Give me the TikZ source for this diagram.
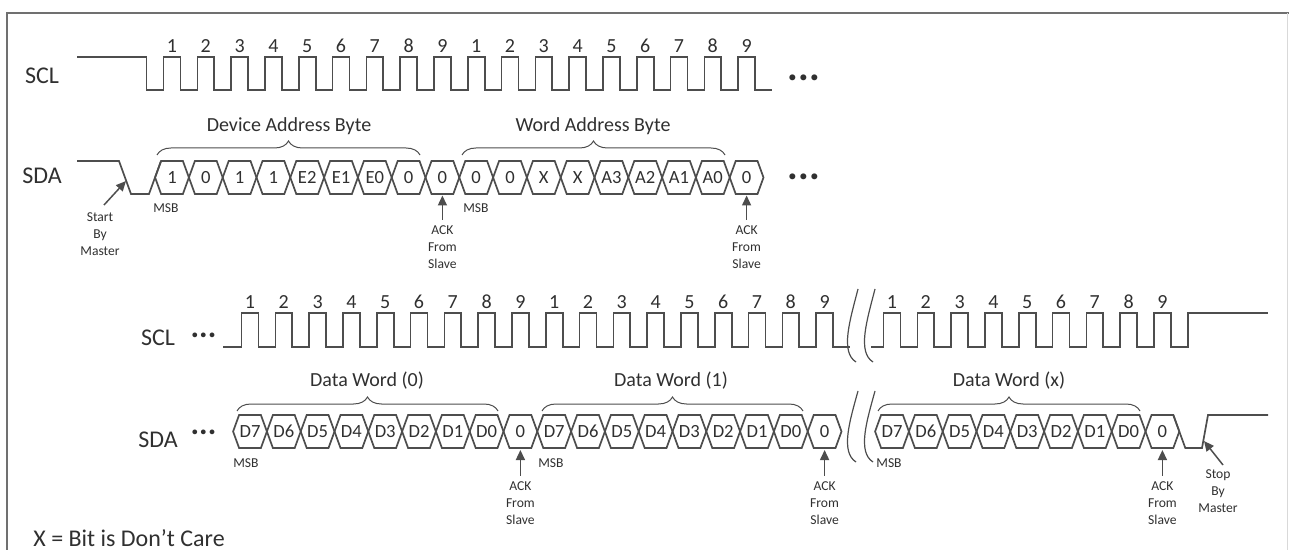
\documentclass[tikz,border=0pt]{standalone}
\usepackage{fontspec}
\setmainfont{Carlito}
\usetikzlibrary{arrows.meta,decorations.pathreplacing}
\definecolor{sig}{HTML}{4D4D4D}
\definecolor{txt}{HTML}{303030}
\definecolor{frm}{HTML}{707070}
\newcommand\hexcell[5]{%
  \draw[sigline] ({#1-16.9},{(#2+#3)/2}) -- ({#1-10.9},#2) -- ({#1+10.9},#2) -- ({#1+16.9},{(#2+#3)/2}) -- ({#1+10.9},#3) -- ({#1-10.9},#3) -- cycle;
  \node[hexlbl] (#5) at ({#1},{(#2+#3)/2}) {#4};
}
\begin{document}
\begin{tikzpicture}[x=0.5pt,y=-0.5pt,
  sigline/.style={draw=sig,line width=0.85pt,line join=miter},
  hexlbl/.style={font=\fontsize{9.3}{10}\selectfont,text=txt,inner sep=0pt},
  numlbl/.style={font=\fontsize{10}{10}\selectfont,text=txt,inner sep=0pt},
  siglbl/.style={font=\fontsize{12}{12}\selectfont,text=txt,inner sep=0pt},
  grplbl/.style={font=\fontsize{10}{10}\selectfont,text=txt,inner sep=0pt,anchor=base},
  smalllbl/.style={font=\fontsize{6.8}{8.5}\selectfont,text=txt,inner sep=0pt,align=center},
  dotsbig/.style={font=\fontsize{20}{20}\selectfont\bfseries,text=txt,inner sep=0pt,anchor=base},
  dotssmall/.style={font=\fontsize{16}{16}\selectfont\bfseries,text=txt,inner sep=0pt,anchor=base},
  bracestyle/.style={draw=sig,line width=0.5pt,decorate,decoration={brace,amplitude=7pt}},
  ackarrow/.style={draw=sig,line width=0.75pt,-{Triangle[length=5pt,width=4.5pt]}},
  breakline/.style={draw=sig,line width=0.6pt},
]
\useasboundingbox (0,0) rectangle (1289,550);
% frame
\draw[frm,line width=1.3pt] (7,552) -- (7,13) -- (1291,13);
\draw[black!15,line width=0.6pt] (1287.5,13) -- (1287.5,552);

% ================= TOP ROW =================
\node[siglbl] (sclA) at (42,76) {SCL};
\node[siglbl] (sdaA) at (42,176) {SDA};

\draw[sigline] (77,57) -- (146.6,57) -- (146.6,90)
  \foreach \k in {0,...,17}{ -- ({172+33.8*\k-8.45},90) -- ({172+33.8*\k-8.45},57) -- ({172+33.8*\k+8.45},57) -- ({172+33.8*\k+8.45},90) }
  -- (772,90);
\foreach \k [evaluate=\k as \n using {int(mod(\k,9)+1)}] in {0,...,17}
  \node[numlbl] (numA\k) at ({172+33.8*\k},46) {\n};

\draw[sigline] (77,161) -- (119,161) -- (131,194) -- (149,194) -- (161,161);
\foreach \k/\t in {0/1,1/0,2/1,3/1,4/E2,5/E1,6/E0,7/0,8/0,9/0,10/0,11/X,12/X,13/A3,14/A2,15/A1,16/A0,17/0}
  {\hexcell{172+33.8*\k}{161}{194}{\t}{hA\k}}

\node[dotsbig] (dotsA1) at (804,80.6) {...};
\node[dotsbig] (dotsA2) at (804,179.6) {...};

\draw[bracestyle] (157,155) -- (420,155);
\node[grplbl] (devlbl) at (289,131.5) {Device Address Byte};
\draw[bracestyle] (462,155) -- (725,155);
\node[grplbl] (wordlbl) at (593,131.5) {Word Address Byte};

\node[smalllbl] (msbA1) at (166,208) {MSB};
\node[smalllbl] (msbA2) at (476,208) {MSB};

\node[smalllbl] (startlbl) at (100,234) {Start\\By\\Master};
\coordinate (startTail) at (104,205);
\coordinate (startHead) at (126,181);
\draw[ackarrow] (startTail) -- (startHead);

\node[smalllbl] (ackA1) at (442.4,247.5) {ACK\\From\\Slave};
\coordinate (ackA1h) at (442.4,195.5);
\draw[ackarrow] ([yshift=3pt]ackA1.north) -- (ackA1h);
\node[smalllbl] (ackA2) at (746.6,247.5) {ACK\\From\\Slave};
\coordinate (ackA2h) at (746.6,195.5);
\draw[ackarrow] ([yshift=3pt]ackA2.north) -- (ackA2h);

% ================= BOTTOM ROW =================
\node[siglbl] (sclB) at (158,338) {SCL};
\node[siglbl] (sdaB) at (158,440) {SDA};
\node[dotssmall] (dotsB1) at (203.5,338) {...};
\node[dotssmall] (dotsB2) at (203.5,434) {...};

\draw[sigline] (223,347)
  \foreach \k in {0,...,17}{ -- ({250+33.8*\k-8.45},347) -- ({250+33.8*\k-8.45},313) -- ({250+33.8*\k+8.45},313) -- ({250+33.8*\k+8.45},347) }
  -- (850,347);
\draw[sigline] (871,347)
  \foreach \k in {0,...,8}{ -- ({892+33.8*\k-8.45},347) -- ({892+33.8*\k-8.45},313) -- ({892+33.8*\k+8.45},313) -- ({892+33.8*\k+8.45},347) }
  -- (1187.75,347) -- (1187.75,313) -- (1268,313);
\foreach \k [evaluate=\k as \n using {int(mod(\k,9)+1)}] in {0,...,17}
  \node[numlbl] (numB\k) at ({250+33.8*\k},302) {\n};
\foreach \k [evaluate=\k as \n using {int(\k+1)}] in {0,...,8}
  \node[numlbl] (numC\k) at ({892+33.8*\k},302) {\n};

\foreach \k/\t in {0/D7,1/D6,2/D5,3/D4,4/D3,5/D2,6/D1,7/D0,8/0,9/D7,10/D6,11/D5,12/D4,13/D3,14/D2,15/D1,16/D0,17/0}
  {\hexcell{250+33.8*\k}{415}{448}{\t}{hB\k}}
\foreach \k/\t in {0/D7,1/D6,2/D5,3/D4,4/D3,5/D2,6/D1,7/D0,8/0}
  {\hexcell{892+33.8*\k}{415}{448}{\t}{hC\k}}
\draw[sigline] (1173.3,415) -- (1185.3,448) -- (1202,448) -- (1208,415) -- (1268,415);

% break marks
\draw[breakline] (858,289) .. controls (850,320) and (840,352) .. (856,362);
\draw[breakline] (875,289) .. controls (867,320) and (857,352) .. (873,362);
\draw[breakline] (858,391) .. controls (850,420) and (840,452) .. (856,462);
\draw[breakline] (875,391) .. controls (867,420) and (857,452) .. (873,462);

\draw[bracestyle] (237,411) -- (498,411);
\node[grplbl] (dw0) at (367,386.5) {Data Word (0)};
\draw[bracestyle] (542,411) -- (803,411);
\node[grplbl] (dw1) at (671,386.5) {Data Word (1)};
\draw[bracestyle] (878,411) -- (1140,411);
\node[grplbl] (dwx) at (1009,386.5) {Data Word (x)};

\node[smalllbl] (msbB1) at (246,463) {MSB};
\node[smalllbl] (msbB2) at (551,463) {MSB};
\node[smalllbl] (msbB3) at (889,463) {MSB};

\node[smalllbl] (ackB1) at (520.4,503.5) {ACK\\From\\Slave};
\coordinate (ackB1h) at (520.4,450);
\draw[ackarrow] ([yshift=3pt]ackB1.north) -- (ackB1h);
\node[smalllbl] (ackB2) at (824.6,503.5) {ACK\\From\\Slave};
\coordinate (ackB2h) at (824.6,450);
\draw[ackarrow] ([yshift=3pt]ackB2.north) -- (ackB2h);
\node[smalllbl] (ackB3) at (1162.4,503.5) {ACK\\From\\Slave};
\coordinate (ackB3h) at (1162.4,450);
\draw[ackarrow] ([yshift=3pt]ackB3.north) -- (ackB3h);

\node[smalllbl] (stoplbl) at (1218,491.5) {Stop\\By\\Master};
\coordinate (stopTail) at (1223,465);
\coordinate (stopHead) at (1204,441);
\draw[ackarrow] (stopTail) -- (stopHead);

\node[siglbl,anchor=base west] (note) at (33,546) {X = Bit is Don’t Care};
\end{tikzpicture}
\end{document}
